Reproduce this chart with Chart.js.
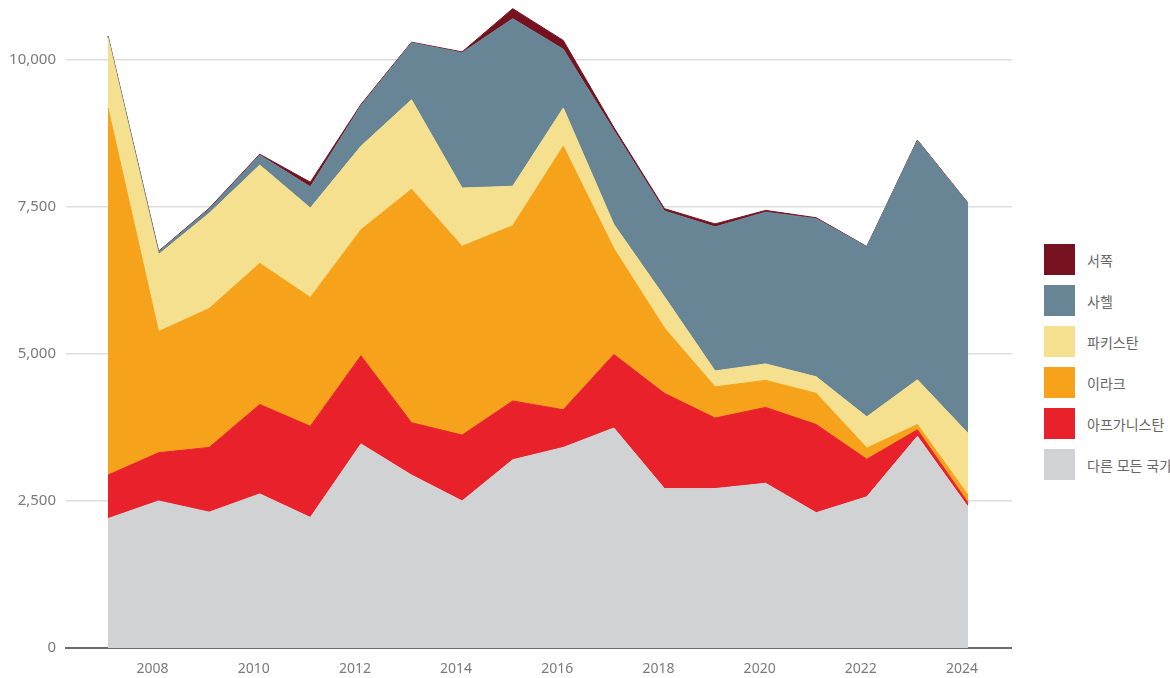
<!DOCTYPE html>
<html lang="ko">
<head>
<meta charset="utf-8">
<title>지역별 추이</title>
<script src="https://cdn.jsdelivr.net/npm/chart.js@4"></script>
<style>
    html, body { margin: 0; padding: 0; background: #fff; overflow: hidden; }
    body { width: 1170px; height: 678px; position: relative; font-family: "Noto Sans", "Noto Sans CJK KR", sans-serif; }
    #chart-wrap { position: absolute; left: 0; top: 0; width: 1012px; height: 678px; }
    #legend { position: absolute; left: 1044px; top: 244px; }
    .legend-item { display: flex; align-items: center; height: 31px; margin-bottom: 10px; white-space: nowrap; }
    .legend-box { width: 31px; height: 31px; flex: none; }
    .legend-label { margin-left: 12px; font-size: 14px; color: #666; font-family: "Noto Sans CJK KR", "Noto Sans", sans-serif; }
</style>
</head>
<body>
<div id="chart-wrap"><canvas id="area-chart"></canvas></div>
<div id="legend"></div>
<script>
    const years = [2007, 2008, 2009, 2010, 2011, 2012, 2013, 2014, 2015, 2016, 2017, 2018, 2019, 2020, 2021, 2022, 2023, 2024];

    // stacked bottom to top
    const otherCountries = [2200, 2500, 2310, 2620, 2220, 3470, 2940, 2500, 3200, 3410, 3740, 2710, 2710, 2800, 2300, 2570, 3600, 2400];
    const afghanistan = [740, 820, 1100, 1520, 1550, 1500, 890, 1120, 1000, 640, 1250, 1620, 1200, 1290, 1500, 640, 110, 70];
    const iraq = [6240, 2060, 2360, 2400, 2190, 2140, 3970, 3210, 2980, 4480, 1800, 1110, 530, 460, 530, 190, 90, 130];
    const pakistan = [1190, 1310, 1620, 1670, 1520, 1420, 1520, 990, 670, 650, 410, 530, 270, 280, 280, 530, 760, 1050];
    const sahel = [30, 50, 70, 170, 360, 690, 970, 2300, 2850, 1000, 1600, 1460, 2450, 2580, 2690, 2890, 4070, 3910];
    const west = [5, 5, 15, 15, 80, 20, 10, 15, 170, 150, 50, 40, 50, 30, 15, 5, 5, 5];

    const seriesNames = ['다른 모든 국가', '아프가니스탄', '이라크', '파키스탄', '사헬', '서쪽'];
    const seriesColors = ['#d1d2d4', '#e8212b', '#f6a31b', '#f4e08e', '#688595', '#76111f'];
    const seriesValues = [otherCountries, afghanistan, iraq, pakistan, sahel, west];

    const yTicks = [0, 2500, 5000, 7500, 10000];
    const xTickYears = [2008, 2010, 2012, 2014, 2016, 2018, 2020, 2022, 2024];

    const datasets = seriesValues.map((values, i) => ({
        label: seriesNames[i],
        data: values.map((v, j) => ({ x: years[j], y: v })),
        backgroundColor: seriesColors[i],
        borderColor: seriesColors[i],
        borderWidth: 1,
        pointRadius: 0,
        tension: 0,
        fill: i === 0 ? 'origin' : '-1'
    }));

    new Chart(document.getElementById('area-chart'), {
        type: 'line',
        data: { datasets },
        options: {
            responsive: true,
            maintainAspectRatio: false,
            animation: false,
            layout: { padding: { top: 1, right: 0, left: 0, bottom: 0 } },
            plugins: {
                legend: { display: false },
                tooltip: { enabled: false }
            },
            scales: {
                x: {
                    type: 'linear',
                    min: 2006.17,
                    max: 2024.87,
                    afterFit: (scale) => { scale.height = 30; },
                    afterBuildTicks: (scale) => { scale.ticks = xTickYears.map(v => ({ value: v })); },
                    grid: { display: false, drawTicks: false },
                    border: { display: true, color: '#6b6b6b', width: 2 },
                    ticks: {
                        padding: 13,
                        labelOffset: -6,
                        color: '#7a7a7a',
                        font: { family: '"Noto Sans", sans-serif', size: 14 },
                        callback: (v) => String(v)
                    }
                },
                y: {
                    stacked: true,
                    min: 0,
                    max: 11000,
                    // no extra room for the top label: 11,000 is not labelled
                    afterFit: (scale) => { scale.width = 66; scale.paddingTop = 0; scale.paddingBottom = 0; },
                    afterBuildTicks: (scale) => { scale.ticks = yTicks.map(v => ({ value: v })); },
                    grid: { color: '#dedede', lineWidth: 1.5, drawTicks: false },
                    border: { display: false },
                    ticks: {
                        padding: 10,
                        color: '#7a7a7a',
                        font: { family: '"Noto Sans", sans-serif', size: 15 },
                        callback: (v) => v.toLocaleString('en-US')
                    }
                }
            }
        }
    });

    // legend, top entry = top of the stack
    const legendEl = document.getElementById('legend');
    for (let i = seriesNames.length - 1; i >= 0; i--) {
        const item = document.createElement('div');
        item.className = 'legend-item';
        item.innerHTML = `<span class="legend-box" style="background:${seriesColors[i]}"></span><span class="legend-label">${seriesNames[i]}</span>`;
        legendEl.appendChild(item);
    }
</script>
</body>
</html>
